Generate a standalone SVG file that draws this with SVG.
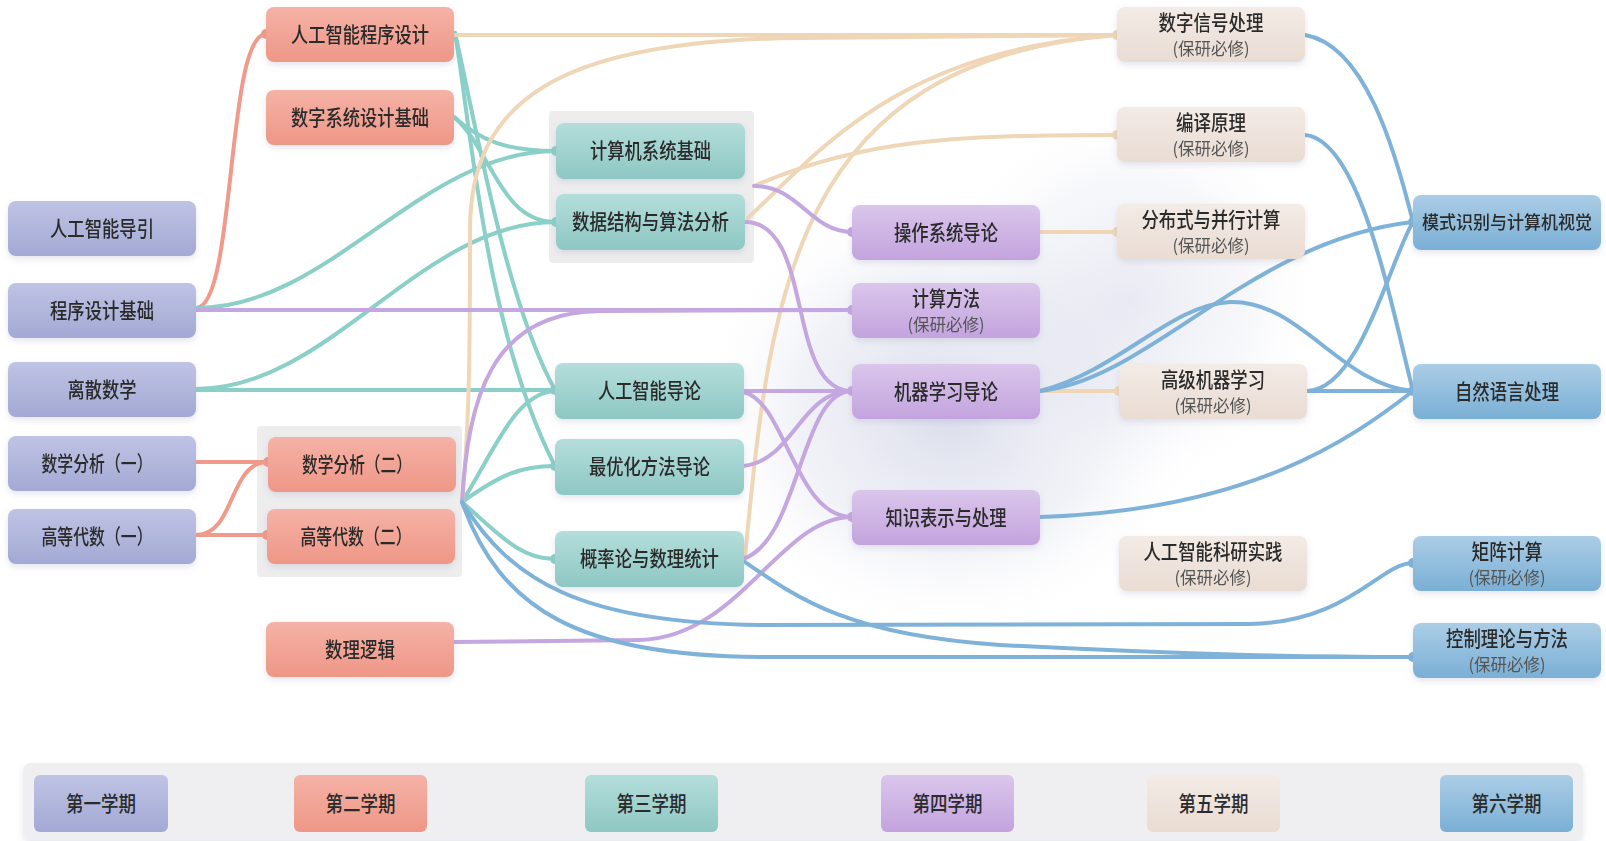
<svg xmlns="http://www.w3.org/2000/svg" width="1606" height="841" viewBox="0 0 1606 841">
<defs>
<linearGradient id="g1" x1="0" y1="0" x2="0" y2="1"><stop offset="0" stop-color="#bfc3e4"/><stop offset="1" stop-color="#a3a9d4"/></linearGradient>
<linearGradient id="g2" x1="0" y1="0" x2="0" y2="1"><stop offset="0" stop-color="#f5b2a6"/><stop offset="1" stop-color="#ee9787"/></linearGradient>
<linearGradient id="g3" x1="0" y1="0" x2="0" y2="1"><stop offset="0" stop-color="#b4dedb"/><stop offset="1" stop-color="#8ec7c3"/></linearGradient>
<linearGradient id="g4" x1="0" y1="0" x2="0" y2="1"><stop offset="0" stop-color="#dac6eb"/><stop offset="1" stop-color="#c3a3de"/></linearGradient>
<linearGradient id="g5" x1="0" y1="0" x2="0" y2="1"><stop offset="0" stop-color="#f3ebe6"/><stop offset="1" stop-color="#e9dcd3"/></linearGradient>
<linearGradient id="g6" x1="0" y1="0" x2="0" y2="1"><stop offset="0" stop-color="#abcde6"/><stop offset="1" stop-color="#7aafd5"/></linearGradient>
<radialGradient id="glow" cx="0.5" cy="0.5" r="0.5"><stop offset="0" stop-color="#d6d9e9" stop-opacity="0.9"/><stop offset="0.6" stop-color="#e4e6f0" stop-opacity="0.5"/><stop offset="1" stop-color="#ffffff" stop-opacity="0"/></radialGradient>
<filter id="sh" x="-10%" y="-20%" width="120%" height="150%"><feDropShadow dx="0" dy="3" stdDeviation="3" flood-color="#8a8fb0" flood-opacity="0.22"/></filter>
</defs>
<style>
.t{font-family:"Noto Sans CJK SC","Noto Sans",sans-serif;font-size:21px;font-weight:500;fill:#2b2b2b;text-anchor:middle;dominant-baseline:central;transform:translateY(-2px)}
.s{font-size:17px;font-weight:400;fill:#555555}
.sm{font-size:18px}
.e{fill:none;stroke-width:4;stroke-linecap:round}
.sa{stroke:#f09a8b}.te{stroke:#8acfc8}.pu{stroke:#c4a6e0}.be{stroke:#efd6b6}.bl{stroke:#7fb2d8}
.dsa{fill:#f09a8b}.dte{fill:#8acfc8}.dpu{fill:#c4a6e0}.dbe{fill:#efd6b6}.dbl{fill:#7fb2d8}
.grp{fill:#ededee}
.n1{fill:url(#g1)}.n2{fill:url(#g2)}.n3{fill:url(#g3)}.n4{fill:url(#g4)}.n5{fill:url(#g5)}.n6{fill:url(#g6)}
</style>
<rect width="1606" height="841" fill="#ffffff"/>
<ellipse cx="950" cy="410" rx="260" ry="230" fill="url(#glow)"/>
<ellipse cx="1130" cy="300" rx="200" ry="200" fill="url(#glow)" opacity="0.6"/>

<rect class="grp" x="257" y="426" width="205" height="151" rx="4"/>
<rect class="grp" x="549" y="111" width="205" height="152" rx="4"/>

<g id="connectors">
<!-- salmon -->
<path class="e sa" d="M196,308 C236,308 226,34 266,34"/>
<path class="e sa" d="M196,462 L268,462"/>
<path class="e sa" d="M196,535 L267,535"/>
<path class="e sa" d="M196,535 C236,535 228,462 268,462"/>
<!-- teal -->
<path class="e te" d="M454,117 C480,140 505,151 556,151"/>
<path class="e te" d="M454,117 C492,150 500,222 556,222"/>
<path class="e te" d="M196,308 C330,308 420,151 556,151"/>
<path class="e te" d="M196,389 C330,389 420,222 556,222"/>
<path class="e te" d="M196,390 L555,390"/>
<path class="e te" d="M455,33 C475,120 505,300 555,390"/>
<path class="e te" d="M455,33 C470,120 485,330 555,466"/>
<path class="e te" d="M462,502 C495,450 515,393 555,391"/>
<path class="e te" d="M462,502 C500,475 520,466 555,466"/>
<path class="e te" d="M462,502 C500,535 520,559 555,559"/>
<!-- beige -->
<path class="e be" d="M454,35 L1117,35"/>
<path class="e be" stroke-width="3" d="M462,502 C470,420 470,330 470,230 C470,100 560,40 800,38 L1117,35"/>
<path class="e be" d="M748,218 C820,150 900,50 1117,35"/>
<path class="e be" stroke-width="3" d="M745,557 C770,300 790,60 1117,35"/>
<path class="e be" d="M754,186 C860,140 950,135 1117,135"/>
<path class="e be" d="M1040,232 L1117,232"/>
<path class="e be" d="M1040,391 L1119,391"/>
<!-- purple -->
<path class="e pu" d="M196,310 L852,310"/>
<path class="e pu" d="M462,502 C468,400 490,312 600,311 L852,310"/>
<path class="e pu" d="M754,186 C800,186 810,232 852,232"/>
<path class="e pu" d="M745,222 C815,222 785,391 852,391"/>
<path class="e pu" d="M743,391 L852,391"/>
<path class="e pu" d="M743,392 C785,400 795,517 852,517"/>
<path class="e pu" d="M743,466 C795,460 800,391 852,391"/>
<path class="e pu" d="M743,559 C800,540 800,391 852,391"/>
<path class="e pu" d="M454,642 L640,640 C740,637 780,517 852,517"/>
<!-- blue -->
<path class="e bl" d="M1305,35 C1365,45 1395,150 1413,222"/>
<path class="e bl" d="M1305,135 C1360,140 1390,300 1413,391"/>
<path class="e bl" stroke-width="5" d="M1040,391 C1150,380 1250,240 1413,222"/>
<path class="e bl" d="M1040,391 C1120,370 1170,305 1230,302 C1300,300 1340,385 1413,391"/>
<path class="e bl" d="M1307,391 L1413,391"/>
<path class="e bl" d="M1307,391 C1360,390 1390,260 1413,222"/>
<path class="e bl" d="M1040,517 C1250,510 1350,440 1413,391"/>
<path class="e bl" d="M462,502 C510,580 580,623 760,625 L1250,624 C1350,622 1380,563 1413,563"/>
<path class="e bl" d="M462,502 C500,610 580,656 760,657 L1413,657"/>
<path class="e bl" d="M745,562 C800,600 850,635 1000,645 C1200,655 1300,657 1413,657"/>
<!-- end tabs -->
<circle class="dsa" cx="266" cy="34" r="5"/><circle class="dsa" cx="268" cy="462" r="5"/><circle class="dsa" cx="267" cy="535" r="5"/>
<circle class="dte" cx="556" cy="151" r="5"/><circle class="dte" cx="556" cy="222" r="5"/><circle class="dte" cx="555" cy="390" r="5"/><circle class="dte" cx="555" cy="466" r="5"/><circle class="dte" cx="555" cy="559" r="5"/>
<circle class="dpu" cx="852" cy="232" r="5"/><circle class="dpu" cx="852" cy="310" r="5"/><circle class="dpu" cx="852" cy="391" r="5"/><circle class="dpu" cx="852" cy="517" r="5"/>
<circle class="dbe" cx="1117" cy="35" r="5"/><circle class="dbe" cx="1117" cy="135" r="5"/><circle class="dbe" cx="1117" cy="232" r="5"/><circle class="dbe" cx="1119" cy="391" r="5"/>
<circle class="dbl" cx="1413" cy="222" r="5"/><circle class="dbl" cx="1413" cy="391" r="5"/><circle class="dbl" cx="1413" cy="563" r="5"/><circle class="dbl" cx="1413" cy="657" r="5"/>
</g>

<!-- semester 1 -->
<g id="n-aiguide" filter="url(#sh)"><rect class="n1" x="8" y="201" width="188" height="55" rx="8"/><text class="t" x="102" y="228.5" textLength="104" lengthAdjust="spacingAndGlyphs">人工智能导引</text></g>
<g id="n-progbase" filter="url(#sh)"><rect class="n1" x="8" y="283" width="188" height="55" rx="8"/><text class="t" x="102" y="310.5" textLength="104" lengthAdjust="spacingAndGlyphs">程序设计基础</text></g>
<g id="n-discrete" filter="url(#sh)"><rect class="n1" x="8" y="362" width="188" height="55" rx="8"/><text class="t" x="102" y="389.5" textLength="69" lengthAdjust="spacingAndGlyphs">离散数学</text></g>
<g id="n-ma1" filter="url(#sh)"><rect class="n1" x="8" y="436" width="188" height="55" rx="8"/><text class="t" x="97" y="463.5" textLength="111" lengthAdjust="spacingAndGlyphs">数学分析（一）</text></g>
<g id="n-la1" filter="url(#sh)"><rect class="n1" x="8" y="509" width="188" height="55" rx="8"/><text class="t" x="97" y="536.5" textLength="111" lengthAdjust="spacingAndGlyphs">高等代数（一）</text></g>

<!-- semester 2 -->
<g id="n-aiprog" filter="url(#sh)"><rect class="n2" x="266" y="7" width="188" height="55" rx="8"/><text class="t" x="360" y="34.5" textLength="138" lengthAdjust="spacingAndGlyphs">人工智能程序设计</text></g>
<g id="n-digsys" filter="url(#sh)"><rect class="n2" x="266" y="90" width="188" height="55" rx="8"/><text class="t" x="360" y="117.5" textLength="138" lengthAdjust="spacingAndGlyphs">数字系统设计基础</text></g>
<g id="n-ma2" filter="url(#sh)"><rect class="n2" x="268" y="437" width="188" height="55" rx="8"/><text class="t" x="357" y="464.5" textLength="110" lengthAdjust="spacingAndGlyphs">数学分析（二）</text></g>
<g id="n-la2" filter="url(#sh)"><rect class="n2" x="267" y="509" width="188" height="55" rx="8"/><text class="t" x="356" y="536.5" textLength="111" lengthAdjust="spacingAndGlyphs">高等代数（二）</text></g>
<g id="n-logic" filter="url(#sh)"><rect class="n2" x="266" y="622" width="188" height="55" rx="8"/><text class="t" x="360" y="649.5" textLength="70" lengthAdjust="spacingAndGlyphs">数理逻辑</text></g>

<!-- semester 3 -->
<g id="n-csys" filter="url(#sh)"><rect class="n3" x="556" y="123" width="189" height="56" rx="8"/><text class="t" x="650.5" y="151" textLength="121" lengthAdjust="spacingAndGlyphs">计算机系统基础</text></g>
<g id="n-dsa" filter="url(#sh)"><rect class="n3" x="556" y="194" width="189" height="56" rx="8"/><text class="t" x="650.5" y="222" textLength="157" lengthAdjust="spacingAndGlyphs">数据结构与算法分析</text></g>
<g id="n-aiintro" filter="url(#sh)"><rect class="n3" x="555" y="363" width="189" height="56" rx="8"/><text class="t" x="649.5" y="391" textLength="103" lengthAdjust="spacingAndGlyphs">人工智能导论</text></g>
<g id="n-opt" filter="url(#sh)"><rect class="n3" x="555" y="439" width="189" height="56" rx="8"/><text class="t" x="649.5" y="467" textLength="121" lengthAdjust="spacingAndGlyphs">最优化方法导论</text></g>
<g id="n-prob" filter="url(#sh)"><rect class="n3" x="555" y="531" width="189" height="56" rx="8"/><text class="t" x="649.5" y="559" textLength="139" lengthAdjust="spacingAndGlyphs">概率论与数理统计</text></g>

<!-- semester 4 -->
<g id="n-os" filter="url(#sh)"><rect class="n4" x="852" y="205" width="188" height="55" rx="8"/><text class="t" x="946" y="232.5" textLength="104" lengthAdjust="spacingAndGlyphs">操作系统导论</text></g>
<g id="n-num" filter="url(#sh)"><rect class="n4" x="852" y="283" width="188" height="55" rx="8"/><text class="t" x="946" y="299" textLength="68" lengthAdjust="spacingAndGlyphs">计算方法</text><text class="t s" x="946" y="325" textLength="77" lengthAdjust="spacingAndGlyphs">(保研必修)</text></g>
<g id="n-ml" filter="url(#sh)"><rect class="n4" x="852" y="364" width="188" height="55" rx="8"/><text class="t" x="946" y="391.5" textLength="104" lengthAdjust="spacingAndGlyphs">机器学习导论</text></g>
<g id="n-kr" filter="url(#sh)"><rect class="n4" x="852" y="490" width="188" height="55" rx="8"/><text class="t" x="946" y="517.5" textLength="121" lengthAdjust="spacingAndGlyphs">知识表示与处理</text></g>

<!-- semester 5 -->
<g id="n-dsp" filter="url(#sh)"><rect class="n5" x="1117" y="7" width="188" height="55" rx="8"/><text class="t" x="1211" y="23" textLength="105" lengthAdjust="spacingAndGlyphs">数字信号处理</text><text class="t s" x="1211" y="49" textLength="77" lengthAdjust="spacingAndGlyphs">(保研必修)</text></g>
<g id="n-compiler" filter="url(#sh)"><rect class="n5" x="1117" y="107" width="188" height="55" rx="8"/><text class="t" x="1211" y="123" textLength="70" lengthAdjust="spacingAndGlyphs">编译原理</text><text class="t s" x="1211" y="149" textLength="77" lengthAdjust="spacingAndGlyphs">(保研必修)</text></g>
<g id="n-dist" filter="url(#sh)"><rect class="n5" x="1117" y="204" width="188" height="55" rx="8"/><text class="t" x="1211" y="220" textLength="139" lengthAdjust="spacingAndGlyphs">分布式与并行计算</text><text class="t s" x="1211" y="246" textLength="77" lengthAdjust="spacingAndGlyphs">(保研必修)</text></g>
<g id="n-aml" filter="url(#sh)"><rect class="n5" x="1119" y="364" width="188" height="55" rx="8"/><text class="t" x="1213" y="380" textLength="104" lengthAdjust="spacingAndGlyphs">高级机器学习</text><text class="t s" x="1213" y="406" textLength="77" lengthAdjust="spacingAndGlyphs">(保研必修)</text></g>
<g id="n-research" filter="url(#sh)"><rect class="n5" x="1119" y="536" width="188" height="55" rx="8"/><text class="t" x="1213" y="552" textLength="139" lengthAdjust="spacingAndGlyphs">人工智能科研实践</text><text class="t s" x="1213" y="578" textLength="77" lengthAdjust="spacingAndGlyphs">(保研必修)</text></g>

<!-- semester 6 -->
<g id="n-cv" filter="url(#sh)"><rect class="n6" x="1413" y="195" width="188" height="55" rx="8"/><text class="t sm" x="1507" y="222.5" textLength="170" lengthAdjust="spacingAndGlyphs">模式识别与计算机视觉</text></g>
<g id="n-nlp" filter="url(#sh)"><rect class="n6" x="1413" y="364" width="188" height="55" rx="8"/><text class="t" x="1507" y="391.5" textLength="104" lengthAdjust="spacingAndGlyphs">自然语言处理</text></g>
<g id="n-matrix" filter="url(#sh)"><rect class="n6" x="1413" y="536" width="188" height="55" rx="8"/><text class="t" x="1507" y="552" textLength="71" lengthAdjust="spacingAndGlyphs">矩阵计算</text><text class="t s" x="1507" y="578" textLength="77" lengthAdjust="spacingAndGlyphs">(保研必修)</text></g>
<g id="n-control" filter="url(#sh)"><rect class="n6" x="1413" y="623" width="188" height="55" rx="8"/><text class="t" x="1507" y="639" textLength="122" lengthAdjust="spacingAndGlyphs">控制理论与方法</text><text class="t s" x="1507" y="665" textLength="77" lengthAdjust="spacingAndGlyphs">(保研必修)</text></g>

<!-- legend -->
<g id="legend">
<rect x="23" y="763" width="1560" height="77" rx="8" fill="#efeff1" filter="url(#sh)"/>
<g id="lg1"><rect class="n1" x="34" y="775" width="134" height="57" rx="6"/><text class="t" x="101" y="803.5" textLength="70" lengthAdjust="spacingAndGlyphs">第一学期</text></g>
<g id="lg2"><rect class="n2" x="294" y="775" width="133" height="57" rx="6"/><text class="t" x="360.5" y="803.5" textLength="70" lengthAdjust="spacingAndGlyphs">第二学期</text></g>
<g id="lg3"><rect class="n3" x="585" y="775" width="133" height="57" rx="6"/><text class="t" x="651.5" y="803.5" textLength="70" lengthAdjust="spacingAndGlyphs">第三学期</text></g>
<g id="lg4"><rect class="n4" x="881" y="775" width="133" height="57" rx="6"/><text class="t" x="947.5" y="803.5" textLength="70" lengthAdjust="spacingAndGlyphs">第四学期</text></g>
<g id="lg5"><rect class="n5" x="1147" y="775" width="133" height="57" rx="6"/><text class="t" x="1213.5" y="803.5" textLength="70" lengthAdjust="spacingAndGlyphs">第五学期</text></g>
<g id="lg6"><rect class="n6" x="1440" y="775" width="133" height="57" rx="6"/><text class="t" x="1506.5" y="803.5" textLength="70" lengthAdjust="spacingAndGlyphs">第六学期</text></g>
</g>
</svg>
